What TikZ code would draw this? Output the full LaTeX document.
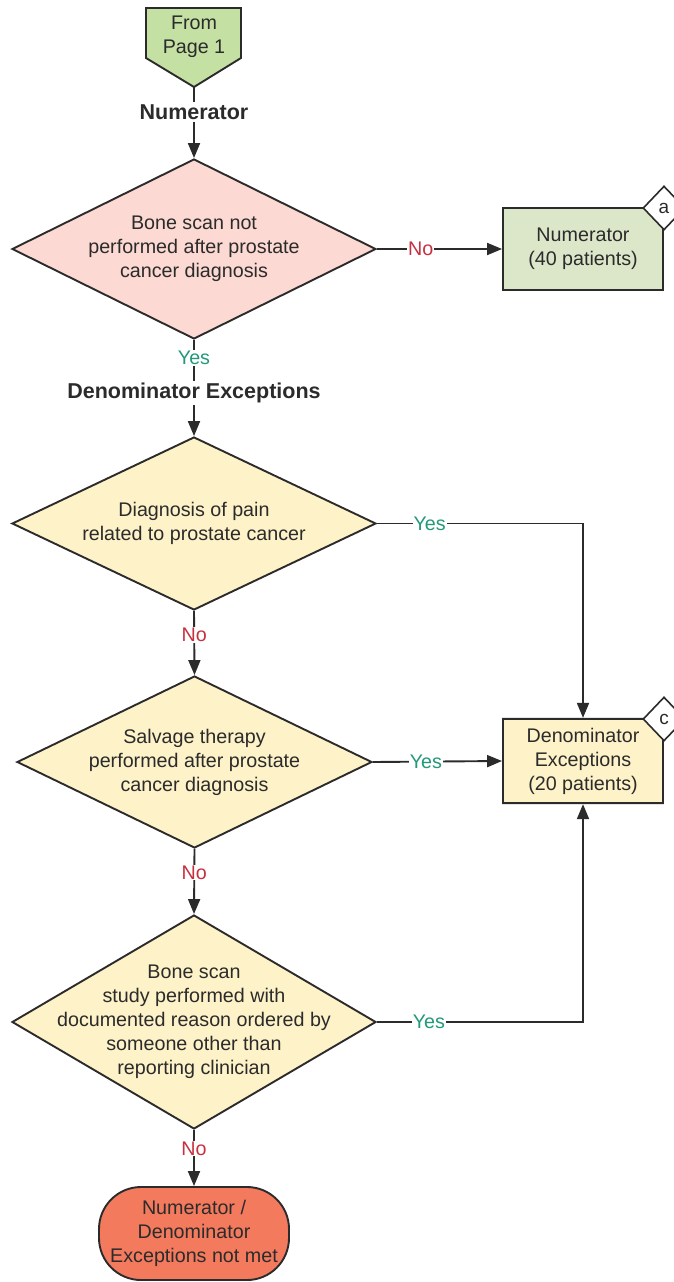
\documentclass[tikz,border=0pt]{standalone}
\usepackage{fontspec}
\setmainfont{Liberation Sans}
\usetikzlibrary{shapes.geometric,shapes.misc,arrows.meta}

\definecolor{linec}{HTML}{2B2B2B}
\definecolor{offpg}{HTML}{C5E0A3}
\definecolor{numfill}{HTML}{DCE6C9}
\definecolor{pinkq}{HTML}{FCD9D2}
\definecolor{yellq}{HTML}{FEF2C9}
\definecolor{endfill}{HTML}{F47A5E}
\definecolor{yesc}{HTML}{23997A}
\definecolor{noc}{HTML}{C8303F}

\begin{document}
\begin{tikzpicture}[x=1pt,y=-1pt,
  txt/.style={font=\fontsize{19.7}{24}\selectfont,align=center,text=linec},
  head/.style={font=\fontsize{21.5}{26}\selectfont\bfseries,text=linec,inner sep=2pt},
  quest/.style={diamond,draw=linec,line width=1.9pt,inner sep=0pt},
  rbox/.style={chamfered rectangle,chamfered rectangle corners=north east,
    chamfered rectangle sep=9pt,draw=linec,line width=1.9pt,
    minimum width=160pt,minimum height=82pt,inner sep=0pt,txt},
  tagmark/.style={diamond,draw=linec,fill=white,line width=1.6pt,
    minimum width=42pt,minimum height=44pt,inner sep=0pt,
    font=\fontsize{19}{22}\selectfont,text=linec},
  endbox/.style={rectangle,rounded corners=42pt,draw=linec,line width=1.9pt,
    fill=endfill,minimum width=190pt,minimum height=93pt,inner sep=0pt,txt},
  yes/.style={fill=white,inner sep=1pt,font=\fontsize{19.7}{24}\selectfont,text=yesc},
  no/.style={fill=white,inner sep=1pt,font=\fontsize{19.7}{24}\selectfont,text=noc},
  ln/.style={draw=linec,line width=1.9pt},
  arr/.style={ln,-{Triangle[length=15pt,width=12pt]}}]
  \useasboundingbox (0,0) rectangle (673,1282);

  % off-page connector and headings
  \draw[ln,fill=offpg] (146,8) -- (241,8) -- (241,58) -- (194,87) -- (146,58) -- cycle;
  \node[txt] (from) at (194,37) {From\\Page 1};
  \coordinate (fromtip) at (194,87);
  \node[head] (hnum) at (194,112) {Numerator};
  \node[head] (hden) at (194,393) {Denominator Exceptions};

  % decisions
  \node[quest,fill=pinkq,minimum width=364pt,minimum height=180pt,
    label={[txt]center:Bone scan not\\performed after prostate\\cancer diagnosis}] (q1) at (194,249) {};
  \node[quest,fill=yellq,minimum width=364pt,minimum height=173pt,
    label={[txt]center:Diagnosis of pain\\related to prostate cancer}] (q2) at (194,523.5) {};
  \node[quest,fill=yellq,minimum width=355pt,minimum height=172pt,
    label={[txt]center:Salvage therapy\\performed after prostate\\cancer diagnosis}] (q3) at (194.5,762) {};
  \node[quest,fill=yellq,minimum width=364pt,minimum height=214pt,
    label={[txt]center:Bone scan\\study performed with\\documented reason ordered by\\someone other than\\reporting clinician}] (q4) at (194,1022) {};

  % outcomes
  \node[rbox,fill=numfill] (numbox) at (583,249) {Numerator\\(40 patients)};
  \node[tagmark] (taga) at (664,208) {a};
  \node[rbox,fill=yellq] (debox) at (583,761) {Denominator\\Exceptions\\(20 patients)};
  \node[tagmark] (tagc) at (664,719) {c};
  \node[endbox] (term) at (194,1233.5) {Numerator /\\Denominator\\Exceptions not met};

  % connectors
  \draw[ln] (fromtip) -- (hnum);
  \draw[arr] (hnum) -- (q1.north);
  \draw[arr] (q1.east) -- node[no,pos=0.35] {No} (numbox.west);
  \node[yes] (yes1) at (194,358) {Yes};
  \draw[ln] (q1.south) -- (yes1);
  \draw[ln] (yes1) -- (hden);
  \draw[arr] (hden) -- (q2.north);
  \draw[arr] (q2.east) -| node[yes,pos=0.128] {Yes} (debox.north);
  \draw[arr] (q2.south) -- node[no,pos=0.38] {No} (q3.north);
  \draw[arr] (q3.east) -- node[yes,pos=0.41] {Yes} (debox.west);
  \draw[arr] (q3.south) -- node[no,pos=0.36] {No} (q4.north);
  \draw[arr] (q4.east) -| node[yes,pos=0.126] {Yes} (debox.south);
  \draw[arr] (q4.south) -- node[no,pos=0.33] {No} (term.north);
\end{tikzpicture}
\end{document}
